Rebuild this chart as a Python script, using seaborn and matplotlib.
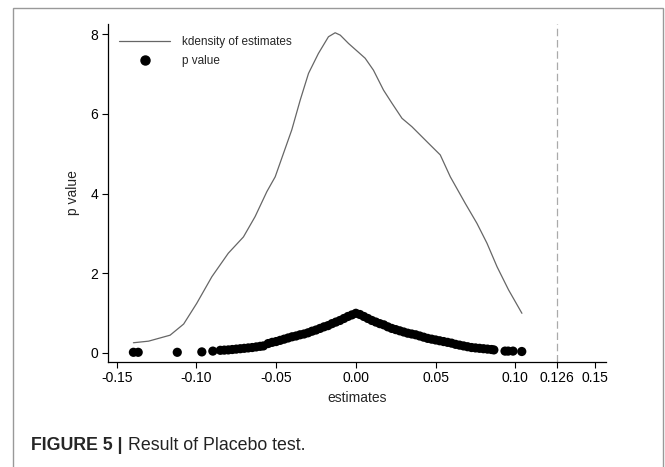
import matplotlib
matplotlib.use("Agg")
import matplotlib.pyplot as plt
import seaborn as sns
import pandas as pd
from matplotlib.patches import Rectangle
from matplotlib.lines import Line2D

# kernel density of placebo estimates
kd_x = [-0.1395, -0.130, -0.1165, -0.108, -0.0998, -0.0903, -0.080, -0.0705,
        -0.0632, -0.0558, -0.0506, -0.0454, -0.0402, -0.0349, -0.0297, -0.0235,
        -0.0172, -0.0130, -0.0098, -0.0046, 0.0016, 0.0058, 0.011, 0.0173,
        0.0226, 0.0289, 0.0351, 0.0456, 0.0529, 0.0592, 0.0686, 0.0759,
        0.0822, 0.0885, 0.0957, 0.1041]
kd_y = [0.25, 0.29, 0.44, 0.72, 1.24, 1.91, 2.50, 2.91,
        3.42, 4.05, 4.42, 5.01, 5.60, 6.35, 7.02, 7.52,
        7.94, 8.04, 7.98, 7.77, 7.55, 7.40, 7.10, 6.60,
        6.27, 5.89, 5.68, 5.26, 4.97, 4.42, 3.75, 3.25,
        2.75, 2.16, 1.58, 0.99]

# estimates and their p values
est = [-0.1395, -0.1365, -0.112, -0.0966, -0.0897,
       -0.085, -0.0825, -0.080, -0.0775, -0.075, -0.0725, -0.070, -0.0675,
       -0.065, -0.0625, -0.060, -0.058, -0.055, -0.0525, -0.050, -0.0475,
       -0.045, -0.0425, -0.040, -0.0375, -0.035, -0.0325, -0.030, -0.0275,
       -0.025, -0.0225, -0.020, -0.0175, -0.015, -0.0125, -0.010, -0.0075,
       -0.005, -0.0025, 0.0,
       0.0025, 0.005, 0.0075, 0.010, 0.0125, 0.015, 0.0175, 0.020, 0.0225,
       0.025, 0.0275, 0.030, 0.0325, 0.035, 0.0375, 0.040, 0.0425, 0.045,
       0.0475, 0.050, 0.0525, 0.055, 0.0575, 0.060, 0.0625, 0.065, 0.0675,
       0.070, 0.0725, 0.075, 0.0775, 0.080, 0.0825, 0.085, 0.0865,
       0.0935, 0.0955, 0.0985, 0.104]
pval = [0.01, 0.01, 0.01, 0.02, 0.04,
        0.06, 0.065, 0.07, 0.08, 0.09, 0.10, 0.11, 0.12,
        0.13, 0.145, 0.16, 0.17, 0.23, 0.26, 0.28, 0.31,
        0.34, 0.37, 0.40, 0.42, 0.45, 0.47, 0.50, 0.54,
        0.57, 0.61, 0.65, 0.68, 0.73, 0.77, 0.81, 0.86,
        0.91, 0.95, 0.99,
        0.96, 0.91, 0.86, 0.81, 0.77, 0.73, 0.70, 0.65, 0.61,
        0.58, 0.55, 0.52, 0.49, 0.47, 0.45, 0.42, 0.39, 0.36,
        0.34, 0.32, 0.30, 0.28, 0.26, 0.24, 0.21, 0.19, 0.17,
        0.15, 0.13, 0.12, 0.11, 0.10, 0.09, 0.08, 0.07,
        0.04, 0.04, 0.04, 0.03]

true_est = 0.126
xticks = [-0.15, -0.10, -0.05, 0.00, 0.05, 0.10, 0.126, 0.15]
xticklabels = ["-0.15", "-0.10", "-0.05", "0.00", "0.05", "0.10", "0.126", "0.15"]
yticks = [0, 2, 4, 6, 8]

sns.set_style("ticks")
plt.rcParams['font.family'] = ['Liberation Sans', 'DejaVu Sans']

fig = plt.figure(figsize=(6.65, 4.67), dpi=100)
ax = fig.add_axes([0.162, 0.2255, 0.749, 0.7231])

kd = pd.DataFrame({"x": kd_x, "y": kd_y})
pv = pd.DataFrame({"x": est, "y": pval})

sns.lineplot(data=kd, x="x", y="y", ax=ax, color="#666666", linewidth=0.9)
sns.scatterplot(data=pv, x="x", y="y", ax=ax, color="black", s=44,
                edgecolor="none", linewidth=0)
ax.axvline(true_est, color="#aaaaaa", linewidth=0.9, linestyle=(0, (6, 3)))

ax.set_xlim(-0.1556, 0.1567)
ax.set_ylim(-0.226, 8.26)
ax.set_xticks(xticks)
ax.set_xticklabels(xticklabels)
ax.set_yticks(yticks)
ax.tick_params(labelsize=10, length=4, width=0.8, pad=3, colors="black")
ax.set_xlabel("estimates", fontsize=10, labelpad=4)
ax.set_ylabel("p value", fontsize=10, labelpad=7)
sns.despine(ax=ax)
for s in ["left", "bottom"]:
    ax.spines[s].set_linewidth(0.9)
    ax.spines[s].set_color("black")

handles = [Line2D([], [], color="#666666", linewidth=0.9),
           Line2D([], [], color="black", marker="o", linestyle="none", markersize=6.5)]
ax.legend(handles, ["kdensity of estimates", "p value"], loc="upper left",
          bbox_to_anchor=(0.002, 0.995), frameon=False, fontsize=8.5,
          handlelength=4.3, handletextpad=1.0, labelspacing=0.55)

# outer frame of the figure panel
fig.patches.append(Rectangle((12.5 / 665, -0.1), 650 / 665, 1 - 8 / 467 + 0.1,
                             transform=fig.transFigure, fill=False,
                             edgecolor="#999999", linewidth=1.0))

# caption: bold label, then regular text right after it
cap_y = 1 - 446 / 467
t1 = fig.text(31 / 665, cap_y, "FIGURE 5 |", fontsize=12.8, fontweight="bold",
              va="center", ha="left")
fig.canvas.draw()
bb = t1.get_window_extent()
fig.text((bb.x1 + 5) / 665, cap_y, "Result of Placebo test.", fontsize=12.8,
         va="center", ha="left", color="#222222")

fig.savefig("out.png", dpi=100)
